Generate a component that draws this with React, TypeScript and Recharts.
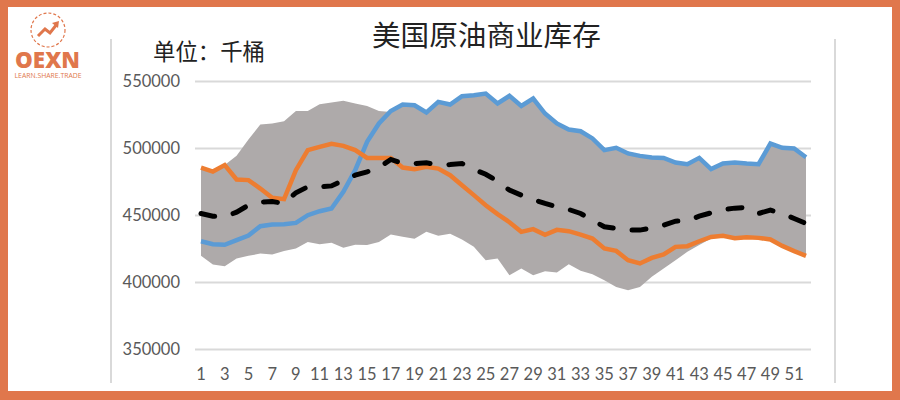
import { Area, CartesianGrid, ComposedChart, Line, XAxis, YAxis } from "recharts";

const weeks = Array.from({ length: 52 }, (_, i) => i + 1);
const yTicks = [350000, 400000, 450000, 500000, 550000];

const current = [
  430800, 428600, 428100, 431600, 435000, 442000, 443300, 443500, 444500, 450200, 453200, 455200, 467700,
  483800, 505000, 518700, 528000, 532800, 532300, 526900, 534800, 532800, 539000, 539800, 541000, 533600,
  539300, 531800, 537300, 526100, 518700, 514200, 512900, 507500, 498800, 500500, 496300, 494500, 493300,
  493000, 489500, 488300, 493000, 484600, 488800, 489500, 488800, 488300, 503700, 500500, 500000, 493500,
];
const lastYear = [
  485800, 482800, 487600, 476900, 476400, 470100, 463200, 462200, 483800, 498800, 501200, 503500, 502000,
  498800, 493000, 493000, 493000, 485800, 484600, 486300, 485000, 480100, 472600, 465200, 457700, 451000,
  445000, 437800, 439800, 435600, 439300, 438300, 435800, 432800, 425400, 423600, 416600, 414200, 418400,
  420900, 426600, 427100, 430800, 434000, 434800, 433000, 433800, 433300, 432100, 427300, 423400, 419900,
];
const average = [
  451500, 449500, 449000, 452500, 457700, 460000, 460400, 459000, 467000, 471400, 471400, 472100, 476400,
  480100, 482600, 485800, 491800, 488800, 488800, 489300, 487600, 488000, 488800, 484300, 480800, 475600,
  468900, 465200, 461900, 459000, 456500, 454500, 451500, 446500, 441600, 440300, 439100, 439100, 440800,
  442800, 445800, 446000, 449500, 452000, 454500, 455500, 456000, 451500, 454000, 451500, 447800, 444000,
];
const rangeLow = [
  419900, 413400, 412200, 417900, 419900, 421600, 420900, 423600, 425400, 430300, 428600, 429600, 425900,
  428100, 427900, 430300, 435800, 434100, 432600, 437800, 434900, 436300, 432100, 426600, 416600, 417900,
  405400, 410400, 405400, 408400, 407400, 413700, 408700, 406200, 401700, 396700, 394200, 396700, 404200,
  410400, 416600, 422900, 427900, 432800, 434800, 433000, 433800, 433300, 432100, 427300, 423400, 419900,
];
const rangeHigh = [
  485800, 482800, 487600, 494500, 506700, 518000, 518700, 520400, 527900, 528000, 533000, 534300, 535600,
  533500, 531800, 528000, 527300, 532800, 532300, 526900, 534800, 532800, 539000, 539800, 541000, 533600,
  539300, 531800, 537300, 526100, 518700, 514200, 512900, 507500, 498800, 500500, 496300, 494500, 493300,
  493000, 489500, 488300, 493000, 484600, 488800, 489500, 488800, 488300, 503700, 500500, 500000, 493500,
];

const data = weeks.map((week, i) => ({
  week,
  current: current[i],
  lastYear: lastYear[i],
  average: average[i],
  range: [rangeLow[i], rangeHigh[i]],
}));

const ORANGE = "#e0774c";
const axisTick = { fontSize: 16.5, fill: "#595959", fontFamily: "Lato" };

const vLine = (left: number) => (
  <div style={{ position: "absolute", left, top: 39, width: 2, height: 344, background: "#d9d9d9" }} />
);

function Logo() {
  return (
    <svg width={90} height={80} style={{ position: "absolute", left: 8, top: 7 }}>
      <circle cx={40} cy={23} r={17} fill="none" stroke={ORANGE} strokeWidth={1.2} strokeDasharray="3 2" />
      <polyline points="30,29 37,22 42,26 49,17" fill="none" stroke={ORANGE} strokeWidth={3} />
      <polygon points="44,16 51,14 50,21" fill={ORANGE} />
      <text x={7} y={61} fontFamily="Open Sans" fontWeight={800} fontSize={22} fill={ORANGE} textLength={65} lengthAdjust="spacingAndGlyphs">
        OEXN
      </text>
      <text x={6.5} y={71} fontFamily="Open Sans" fontSize={7} fill={ORANGE} textLength={67} lengthAdjust="spacingAndGlyphs">
        LEARN.SHARE.TRADE
      </text>
    </svg>
  );
}

export default function App() {
  return (
    <div style={{ position: "absolute", left: 0, top: 0, width: 900, height: 400, background: "#fff", overflow: "hidden" }}>
      {vLine(110)}
      {vLine(834)}
      <div style={{ position: "absolute", left: 0, right: 0, top: 0 }}>
        <ComposedChart width={900} height={400} data={data} margin={{ top: 81.5, right: 89, bottom: 0, left: 0 }}>
          <CartesianGrid vertical={false} stroke="#d9d9d9" strokeWidth={2} />
          <XAxis
            dataKey="week"
            interval={1}
            height={50.5}
            padding={{ left: 6, right: 5 }}
            axisLine={false}
            tickLine={false}
            tick={axisTick}
            tickMargin={13}
          />
          <YAxis
            width={195}
            domain={[350000, 550000]}
            ticks={yTicks}
            axisLine={false}
            tickLine={false}
            tick={axisTick}
            tickMargin={9}
          />
          <Area dataKey="range" stroke="none" fill="#aeaaaa" fillOpacity={1} dot={false} activeDot={false} isAnimationActive={false} />
          <Line dataKey="current" stroke="#5b9bd5" strokeWidth={4.5} dot={false} isAnimationActive={false} />
          <Line dataKey="lastYear" stroke="#ed7d31" strokeWidth={4.5} dot={false} isAnimationActive={false} />
          <Line dataKey="average" stroke="#000" strokeWidth={5} strokeDasharray="14 19" strokeLinecap="round" dot={false} isAnimationActive={false} />
        </ComposedChart>
      </div>
      <div style={{ position: "absolute", left: 0, top: 0, width: 900, height: 7, background: ORANGE }} />
      <div style={{ position: "absolute", left: 0, top: 391, width: 900, height: 9, background: ORANGE }} />
      <div style={{ position: "absolute", left: 0, top: 0, width: 8, height: 400, background: ORANGE }} />
      <div style={{ position: "absolute", left: 892, top: 0, width: 8, height: 400, background: ORANGE }} />
      <Logo />
      <div style={{ position: "absolute", left: 372, top: 15, fontFamily: "Noto Sans CJK SC", fontSize: 28.6, lineHeight: "38px", color: "#222", whiteSpace: "nowrap" }}>
        美国原油商业库存
      </div>
      <div style={{ position: "absolute", left: 153, top: 35, fontFamily: "Noto Sans CJK SC", fontSize: 22.4, lineHeight: "30px", color: "#222", whiteSpace: "nowrap" }}>
        单位：千桶
      </div>
    </div>
  );
}
